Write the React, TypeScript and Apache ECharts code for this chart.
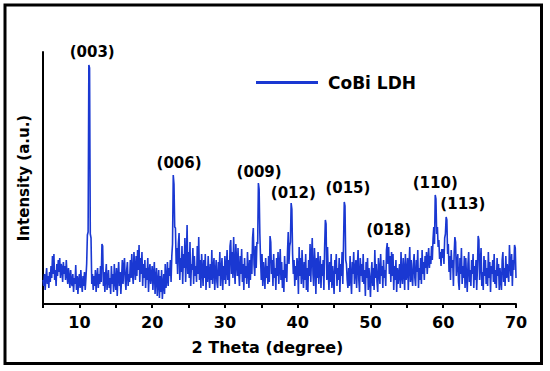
import { useEffect, useRef } from "react";
import * as echarts from "echarts";

// XRD scan grid (2θ, degree)
const thetaStart = 5;
const thetaStep = 0.1;

// Intensity (a.u.), one row per degree (x.0 … x.9)
const intensity = [
  24, 18, 30, 14, 26, 36, 20, 28, 16, 32, // 5
  22, 38, 26, 48, 30, 50, 24, 34, 18, 40, // 6
  28, 44, 32, 46, 26, 40, 36, 22, 42, 30, // 7
  38, 24, 44, 30, 20, 36, 26, 16, 34, 22, // 8
  18, 30, 12, 26, 20, 39, 14, 28, 10, 24, // 9
  30, 16, 34, 20, 12, 28, 18, 32, 14, 26, // 10
  40, 69, 72, 239, 236, 70, 66, 20, 30, 14, // 11
  28, 18, 34, 12, 26, 36, 16, 30, 20, 38, // 12
  22, 60, 58, 18, 32, 12, 28, 40, 14, 24, // 13
  34, 16, 26, 10, 38, 20, 30, 12, 40, 22, // 14
  14, 36, 8, 28, 42, 18, 32, 10, 26, 44, // 15
  20, 38, 46, 24, 14, 34, 42, 18, 30, 22, // 16
  44, 26, 50, 30, 20, 52, 36, 24, 48, 28, // 17
  54, 34, 59, 22, 46, 30, 52, 18, 40, 26, // 18
  44, 16, 36, 24, 46, 12, 32, 40, 20, 28, // 19
  38, 14, 30, 42, 10, 26, 36, 8, 22, 34, // 20
  6, 28, 12, 34, 5, 20, 30, 10, 40, 16, // 21
  24, 42, 18, 36, 28, 44, 22, 48, 60, 129, // 22
  120, 77, 76, 40, 56, 30, 60, 71, 24, 46, // 23
  32, 58, 20, 50, 36, 66, 22, 44, 79, 30, // 24
  52, 26, 62, 18, 40, 34, 56, 20, 48, 28, // 25
  38, 22, 58, 30, 67, 24, 44, 16, 50, 34, // 26
  18, 44, 26, 50, 14, 38, 22, 48, 30, 16, // 27
  40, 24, 54, 20, 36, 46, 14, 32, 44, 22, // 28
  16, 42, 28, 52, 18, 34, 46, 14, 38, 24, // 29
  48, 20, 36, 54, 24, 44, 18, 58, 64, 30, // 30
  52, 26, 67, 36, 20, 60, 42, 28, 56, 32, // 31
  18, 48, 30, 55, 22, 40, 14, 46, 26, 38, // 32
  20, 52, 34, 16, 44, 24, 50, 30, 66, 76, // 33
  40, 28, 58, 36, 62, 60, 121, 115, 70, 44, // 34
  24, 50, 18, 42, 30, 15, 46, 26, 38, 20, // 35
  48, 22, 68, 62, 30, 44, 18, 50, 26, 36, // 36
  14, 46, 28, 52, 20, 38, 55, 24, 42, 16, // 37
  34, 12, 48, 26, 40, 22, 52, 72, 40, 58, // 38
  62, 101, 95, 50, 30, 44, 18, 38, 24, 46, // 39
  40, 10, 57, 28, 46, 20, 54, 32, 16, 42, // 40
  24, 50, 14, 36, 12, 44, 28, 60, 22, 48, // 41
  66, 30, 18, 56, 40, 10, 46, 26, 52, 20, // 42
  36, 48, 16, 40, 28, 44, 14, 56, 84, 80, // 43
  24, 57, 30, 14, 42, 22, 50, 16, 38, 26, // 44
  10, 44, 30, 50, 18, 36, 24, 46, 12, 40, // 45
  28, 52, 20, 61, 102, 98, 44, 40, 24, 16, // 46
  36, 18, 48, 26, 10, 42, 30, 52, 20, 34, // 47
  44, 16, 38, 54, 24, 12, 46, 28, 40, 22, // 48
  50, 20, 34, 8, 42, 26, 46, 14, 36, 24, // 49
  7, 30, 42, 18, 36, 14, 54, 26, 40, 22, // 50
  12, 46, 32, 20, 50, 28, 38, 16, 44, 26, // 51
  34, 18, 54, 61, 40, 57, 30, 48, 22, 52, // 52
  28, 50, 14, 38, 24, 44, 12, 36, 20, 30, // 53
  40, 16, 52, 28, 20, 46, 34, 14, 50, 24, // 54
  30, 46, 14, 38, 57, 22, 44, 28, 18, 40, // 55
  50, 26, 18, 44, 32, 54, 16, 36, 24, 46, // 56
  20, 54, 30, 42, 24, 48, 36, 52, 30, 44, // 57
  56, 36, 48, 40, 58, 44, 65, 77, 60, 109, // 58
  105, 70, 77, 57, 64, 45, 52, 38, 55, 46, // 59
  55, 40, 66, 70, 87, 84, 50, 60, 32, 48, // 60
  24, 54, 36, 44, 18, 50, 67, 62, 28, 40, // 61
  50, 22, 14, 46, 30, 56, 20, 38, 26, 48, // 62
  16, 46, 28, 12, 40, 52, 22, 34, 18, 44, // 63
  30, 50, 16, 38, 24, 44, 14, 36, 68, 64, // 64
  24, 40, 56, 18, 32, 14, 48, 28, 44, 20, // 65
  36, 18, 52, 26, 42, 12, 38, 30, 44, 22, // 66
  50, 20, 34, 16, 46, 28, 40, 14, 36, 24, // 67
  14, 44, 52, 22, 36, 18, 48, 26, 40, 30, // 68
  22, 59, 40, 28, 50, 18, 44, 34, 59, 56, // 69
  26, // 70
];

const seriesName = "CoBi LDH";

// Miller-index annotations and where their labels sit (2θ, intensity)
const peakNames = ["(003)", "(006)", "(009)", "(012)", "(015)", "(018)", "(110)", "(113)"];
const peakLabelTheta = [11.76, 23.7, 34.7, 39.4, 46.9, 52.5, 58.9, 62.7];
const peakLabelLevel = [252, 141, 132, 111, 116, 74, 121, 100];

const FONT = "DejaVu Sans";
const LINE_COLOR = "#1a38d2";

export default function App() {
  const ref = useRef<HTMLDivElement>(null);

  useEffect(() => {
    const chart = echarts.init(ref.current!, null, { renderer: "svg" });
    const data = intensity.map((v, i) => [+(thetaStart + i * thetaStep).toFixed(2), v]);

    chart.setOption({
      animation: false,
      backgroundColor: "#ffffff",
      grid: { left: 43, right: 34, top: 52, bottom: 67, containLabel: false, outerBoundsMode: "none" },
      legend: {
        data: [seriesName],
        left: 251,
        top: 69,
        icon: "rect",
        itemWidth: 62,
        itemHeight: 3,
        itemStyle: { color: LINE_COLOR },
        textStyle: {
          fontFamily: FONT,
          fontWeight: "bold",
          fontSize: 17,
          color: "#000",
          padding: [0, 0, 0, 5],
        },
      },
      xAxis: {
        type: "value",
        min: 5,
        max: 70,
        interval: 5,
        name: "2 Theta (degree)",
        nameLocation: "middle",
        nameGap: 35,
        nameTextStyle: {
          fontFamily: FONT,
          fontWeight: "bold",
          fontSize: 16,
          color: "#000",
          padding: [0, 24, 0, 0],
        },
        axisLine: { show: true, lineStyle: { color: "#000", width: 2 } },
        axisTick: { show: true, length: 4, inside: false, lineStyle: { color: "#000", width: 2 } },
        axisLabel: {
          margin: 10,
          fontFamily: FONT,
          fontWeight: "bold",
          fontSize: 16,
          color: "#000",
          formatter: (v: number) => (v % 10 === 0 ? String(v) : ""),
        },
        splitLine: { show: false },
      },
      yAxis: {
        type: "value",
        min: 0,
        max: 252,
        name: "Intensity (a.u.)",
        nameLocation: "middle",
        nameGap: 12,
        nameTextStyle: { fontFamily: FONT, fontWeight: "bold", fontSize: 15, color: "#000" },
        axisLine: { show: true, lineStyle: { color: "#000", width: 2 } },
        axisTick: { show: false },
        axisLabel: { show: false },
        splitLine: { show: false },
      },
      series: [
        {
          name: seriesName,
          type: "line",
          data,
          symbol: "none",
          lineStyle: { color: LINE_COLOR, width: 1.6 },
          itemStyle: { color: LINE_COLOR },
          markPoint: {
            silent: true,
            symbol: "circle",
            symbolSize: 1,
            itemStyle: { color: "rgba(0,0,0,0)" },
            label: {
              show: true,
              position: "inside",
              formatter: "{b}",
              fontFamily: FONT,
              fontWeight: "bold",
              fontSize: 15,
              color: "#000",
            },
            data: peakNames.map((n, i) => ({ name: n, coord: [peakLabelTheta[i], peakLabelLevel[i]] })),
          },
        },
      ],
      graphic: [
        {
          type: "rect",
          shape: { x: 5, y: 5, width: 536.5, height: 358.5 },
          style: { fill: "none", stroke: "#000", lineWidth: 3 },
          silent: true,
        },
      ],
    });

    return () => chart.dispose();
  }, []);

  return <div ref={ref} style={{ position: "fixed", left: 0, top: 0, width: 550, height: 371 }} />;
}
